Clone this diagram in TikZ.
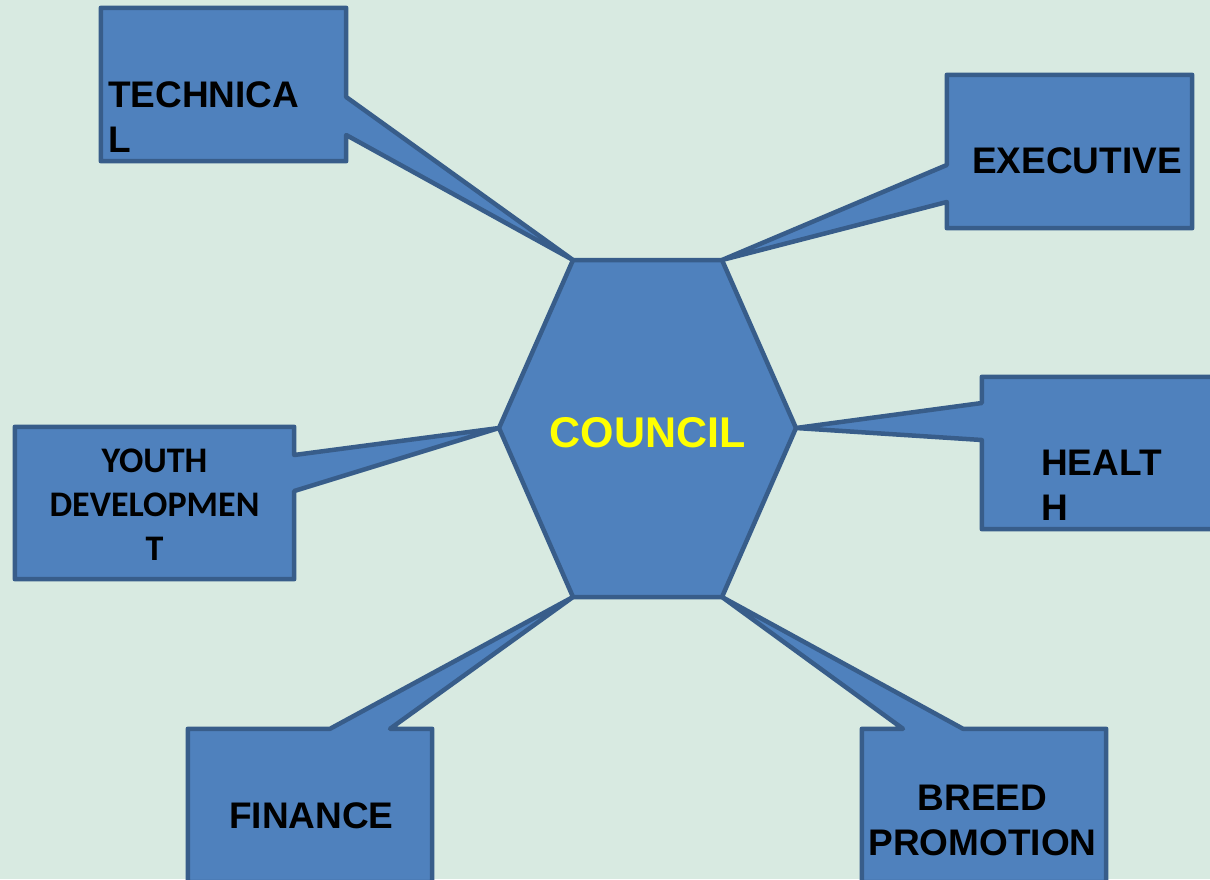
\documentclass[tikz,border=0pt]{standalone}
\usepackage{fontspec}
\setmainfont{Liberation Sans}
\newfontfamily\calfont{Carlito}
\usepackage{xcolor}
\usetikzlibrary{calc}
\definecolor{boxblue}{HTML}{4F81BD}
\definecolor{boxline}{HTML}{385D8A}
\definecolor{bgmint}{HTML}{D8EAE1}
\definecolor{councilyellow}{HTML}{FFFF00}

\begin{document}
\begin{tikzpicture}[x=1pt,y=-1pt,
	box/.style 2 args={rectangle,inner sep=0,minimum width=#1,minimum height=#2},
	callout/.style={fill=boxblue,draw=boxline,line width=4.5pt,line join=round},
	lbl/.style={inner sep=0,font=\bfseries\fontsize{37}{45}\selectfont}]
				%page and background
				\useasboundingbox (0,0) rectangle (1210,879);
				\fill[bgmint] (0,0) rectangle (1210,879);
				\clip (0,0) rectangle (1210,879);
				%%corners of the hexagon, clockwise from top left
				\coordinate (h1) at (573,260);\coordinate (h2) at (722,260);
				\coordinate (h3) at (796,428);\coordinate (h4) at (722,597);
				\coordinate (h5) at (573,597);\coordinate (h6) at (499,428);
				%%boxes placed by hand
				\node[box={245}{153}] (tech) at (223.5,84.5){};
				\node[box={245}{153}] (exec) at (1069.5,151.5){};
				\node[box={279}{152}] (youth) at (154.5,503){};
				\node[box={245}{152}] (health) at (1104.5,453){};
				\node[box={244}{153}] (fin) at (310,805.5){};
				\node[box={244}{153}] (breed) at (984,805.5){};
				%% callouts pointing at the hexagon
				\filldraw[callout] (tech.north west)--(tech.north east)--(tech.east |- 0,97)--(h1)--(tech.east |- 0,135)--(tech.south east)--(tech.south west)--cycle;
				\filldraw[callout] (exec.north west)--(exec.north east)--(exec.south east)--(exec.south west)--(exec.west |- 0,202)--(h2)--(exec.west |- 0,165)--cycle;
				\filldraw[callout] (health.north west)--(health.north east)--(health.south east)--(health.south west)--(health.west |- 0,440)--(h3)--(health.west |- 0,403)--cycle;
				\filldraw[callout] (breed.north west)--(903,0 |- breed.north)--(h4)--(963,0 |- breed.north)--(breed.north east)--(breed.south east)--(breed.south west)--cycle;
				\filldraw[callout] (fin.north west)--(330,0 |- fin.north)--(h5)--(390,0 |- fin.north)--(fin.north east)--(fin.south east)--(fin.south west)--cycle;
				\filldraw[callout] (youth.north west)--(youth.north east)--(youth.east |- 0,455)--(h6)--(youth.east |- 0,491)--(youth.south east)--(youth.south west)--cycle;
				%% the hexagon itself
				\filldraw[callout] (h1)--(h2)--(h3)--(h4)--(h5)--(h6)--cycle;
				\node[inner sep=0,anchor=base,text=councilyellow,font=\bfseries\fontsize{43}{50}\selectfont] (council) at (647.5,447){COUNCIL};
				%% texts of the boxes (base = last line)
				\node[lbl,anchor=base west,align=left] (techtxt) at (108,152){TECHNICA\\L};
				\node[lbl,anchor=base west] (exectxt) at (972,173){EXECUTIVE};
				\node[lbl,anchor=base west,align=left] (healthtxt) at (1041,520){HEALT\\H};
				\node[lbl,anchor=base west] (fintxt) at (229,828){FINANCE};
				\node[lbl,anchor=base,align=center] (breedtxt) at (982.5,855){BREED\\PROMOTION};
				\node[inner sep=0,anchor=base,align=center,font=\calfont\bfseries\fontsize{36}{44}\selectfont] (youthtxt) at (154.5,560){YOUTH\\DEVELOPMEN\\T};
\end{tikzpicture}
\end{document}
